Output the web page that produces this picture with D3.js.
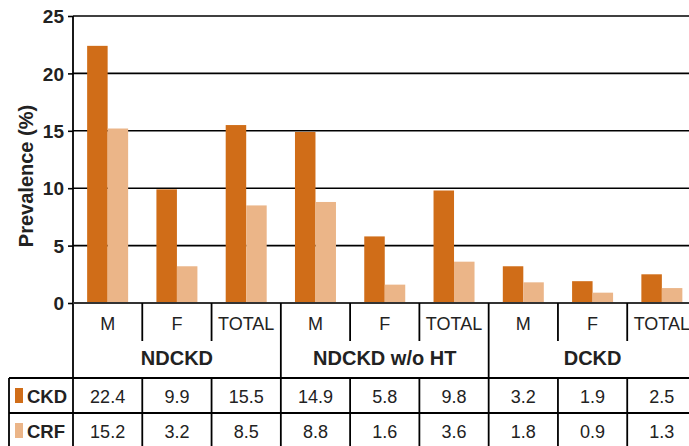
<!DOCTYPE html>
<html><head><meta charset="utf-8">
<script src="https://cdn.jsdelivr.net/npm/d3@7"></script>
<style>body{margin:0;background:#fff}svg{display:block}text{font-family:"Liberation Sans",Arial,sans-serif;fill:#222}</style>
</head><body><svg id="c" width="689" height="446"></svg>
<script>
const groups = ["NDCKD", "NDCKD w/o HT", "DCKD"];
const subs = ["M", "F", "TOTAL"];
const ckd = [22.4, 9.9, 15.5, 14.9, 5.8, 9.8, 3.2, 1.9, 2.5];
const crf = [15.2, 3.2, 8.5, 8.8, 1.6, 3.6, 1.8, 0.9, 1.3];
const yTicks = [0, 5, 10, 15, 20, 25];
const seriesNames = ["CKD", "CRF"];
const colors = ["#D06D18", "#EBB588"];

const svg = d3.select("#c");
const W = 689;
const cats = [];
groups.forEach((g, gi) => subs.forEach((s, si) => cats.push({g, s, i: gi * 3 + si})));

const x = d3.scaleBand().domain(cats.map(c => c.i)).range([73, 696.5]).padding(0);
const xs = d3.scaleBand().domain(seriesNames).range([0, x.bandwidth()]).paddingInner(0).paddingOuter(0.69);
const y = d3.scaleLinear().domain([0, 25]).range([303, 16]);

// gridlines
svg.append("g").selectAll("line").data(yTicks.filter(t => t > 0)).join("line")
  .attr("x1", 73).attr("x2", W).attr("y1", d => y(d)).attr("y2", d => y(d))
  .attr("stroke", "#000").attr("stroke-width", 1.6);

// bars
const vals = [ckd, crf];
seriesNames.forEach((s, k) => {
  svg.append("g").selectAll("rect").data(vals[k]).join("rect")
    .attr("x", (d, i) => x(i) + xs(s)).attr("width", xs.bandwidth())
    .attr("y", d => y(d)).attr("height", d => y(0) - y(d))
    .attr("fill", colors[k]);
});

// y axis
const ya = d3.axisLeft(y).tickValues(yTicks).tickSize(5).tickPadding(4);
const yg = svg.append("g").attr("transform", "translate(73,0)").call(ya);
yg.select(".domain").remove();
yg.selectAll(".tick line").attr("stroke", "#000").attr("stroke-width", 1.6);
yg.selectAll(".tick text").attr("font-size", 19).attr("font-weight", "bold")
  .style("font-family", '"Liberation Sans",Arial,sans-serif').attr("fill", "#222").attr("dy", "0.35em");

svg.append("text").attr("transform", "translate(33,176) rotate(-90)")
  .attr("text-anchor", "middle").attr("font-size", 20).attr("font-weight", "bold")
  .text("Prevalence (%)");

// table lines
const L = (x1, y1, x2, y2, c) => svg.append("line").attr("x1", x1).attr("y1", y1).attr("x2", x2).attr("y2", y2)
  .attr("stroke", c || "#000").attr("stroke-width", 1.8);
L(73, 16, 73, 446);
L(73, 303, W, 303, "#333");
L(9, 378, W, 378);
L(9, 413, W, 413);
L(9, 378, 9, 446);
cats.forEach(c => {
  if (c.i === 0) return;
  const xx = x(c.i);
  if (c.i % 3 === 0) L(xx, 303, xx, 446);
  else { L(xx, 303, xx, 341); L(xx, 378, xx, 446); }
});
L(x(8) + x.bandwidth(), 303, x(8) + x.bandwidth(), 446);

// sub labels
svg.append("g").selectAll("text").data(cats).join("text")
  .attr("x", c => x(c.i) + x.bandwidth() / 2).attr("y", 330)
  .attr("text-anchor", "middle").attr("font-size", 18).text(c => c.s);
// group labels
svg.append("g").selectAll("text").data(groups).join("text")
  .attr("x", (g, gi) => x(gi * 3) + x.bandwidth() * 1.5).attr("y", 365)
  .attr("text-anchor", "middle").attr("font-size", 20).attr("font-weight", "bold").text(g => g);

// table rows
const rowY = [396, 431];
seriesNames.forEach((s, k) => {
  svg.append("rect").attr("x", 15).attr("y", rowY[k] - 8).attr("width", 8).attr("height", 15).attr("fill", colors[k]);
  svg.append("text").attr("x", 27).attr("y", rowY[k] + 6.5).attr("font-size", 18.5).attr("font-weight", "bold").text(s);
  svg.append("g").selectAll("text").data(vals[k]).join("text")
    .attr("x", (d, i) => x(i) + x.bandwidth() / 2).attr("y", rowY[k] + 6.5)
    .attr("text-anchor", "middle").attr("font-size", 18).text(d => d.toFixed(1));
});
</script></body></html>
